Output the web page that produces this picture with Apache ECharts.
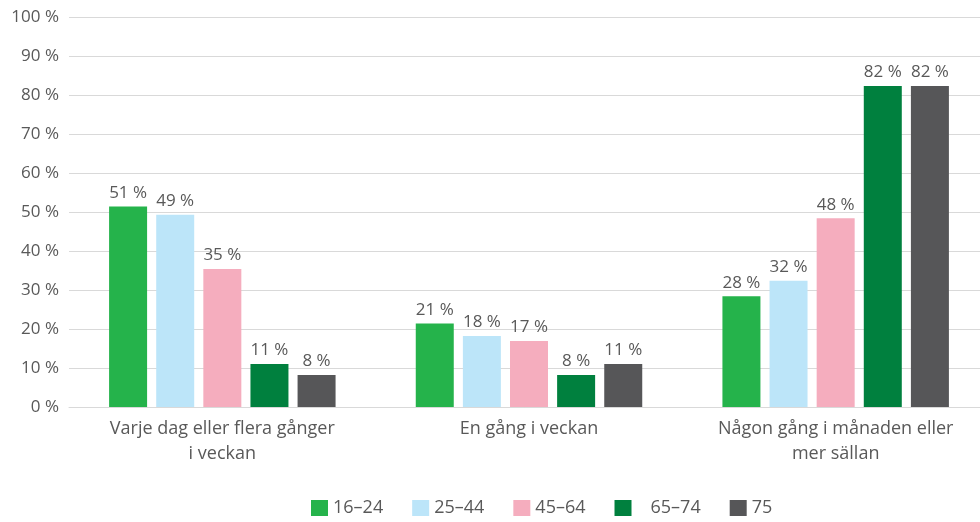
<!DOCTYPE html>
<html>
<head>
<meta charset="utf-8">
<script src="https://cdn.jsdelivr.net/npm/echarts@6/dist/echarts.min.js"></script>
<style>
  html, body { margin: 0; padding: 0; background: #fff; }
  #chart { width: 980px; height: 522px; }
</style>
</head>
<body>
<div id="chart"></div>
<script>
// kategorier och åldersgrupper
const categories = ['Varje dag eller flera gånger\ni veckan', 'En gång i veckan', 'Någon gång i månaden eller\nmer sällan']
const groups = ['16–24', '25–44', '45–64', '65–74', '75']
const colors = ['#25b34b', '#bce5f9', '#f5adbe', '#00803e', '#565658']

// andel i procent per åldersgrupp
const v16_24 = [51.4, 21.4, 28.4]
const v25_44 = [49.3, 18.2, 32.4]
const v45_64 = [35.4, 16.9, 48.4]
const v65_74 = [11.0, 8.2, 82.3]
const v75 = [8.2, 11.0, 82.3]
const seriesValues = [v16_24, v25_44, v45_64, v65_74, v75]

const textColor = '#595959'
const fontFamily = 'Open Sans, sans-serif'

const chart = echarts.init(document.getElementById('chart'))

const option = {
  animation: false,
  textStyle: { fontFamily: fontFamily },
  grid: { left: 69, width: 920, top: 17, bottom: 115, outerBoundsMode: 'none' },
  legend: {
    top: 499,
    left: 311,
    padding: 0,
    itemWidth: 17,
    itemHeight: 16,
    itemGap: 29,
    icon: 'rect',
    textStyle: { color: textColor, fontSize: 18, fontFamily: fontFamily },
    // i originalet står det extra luft före 65–74
    formatter: name => (name === '65–74' ? '   ' + name : name),
    data: groups
  },
  xAxis: {
    type: 'category',
    data: categories,
    axisLine: { lineStyle: { color: '#d9d9d9', width: 1 } },
    axisTick: { show: false },
    axisLabel: { color: textColor, fontSize: 18, lineHeight: 25, margin: 9, interval: 0 }
  },
  yAxis: {
    type: 'value',
    min: 0,
    max: 100,
    interval: 10,
    axisLine: { show: false },
    axisTick: { show: false },
    splitLine: { lineStyle: { color: '#d9d9d9', width: 1 } },
    axisLabel: { color: textColor, fontSize: 17, margin: 10, formatter: v => v + ' %' }
  },
  series: groups.map((name, i) => ({
    name: name,
    type: 'bar',
    data: seriesValues[i],
    barWidth: 38,
    barGap: '24%',
    itemStyle: { color: colors[i] },
    label: {
      show: true,
      position: 'top',
      distance: 5,
      color: textColor,
      fontSize: 17,
      formatter: p => Math.round(p.value) + ' %'
    }
  }))
}

chart.setOption(option)
</script>
</body>
</html>
